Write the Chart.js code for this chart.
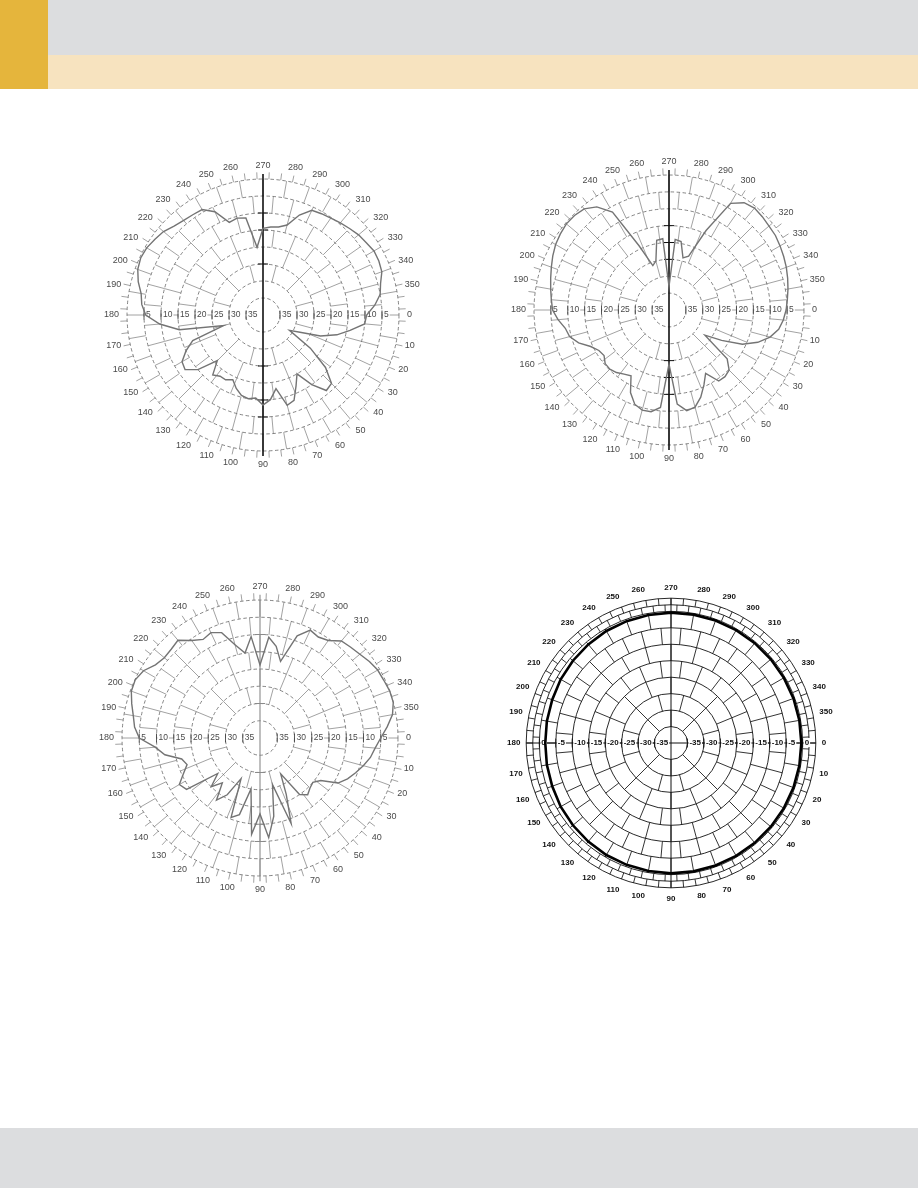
<!DOCTYPE html>
<html lang="es">
<head>
<meta charset="UTF-8">
<title>Diagramas de radiación</title>
<script src="https://cdn.jsdelivr.net/npm/chart.js@4.4.0/dist/chart.umd.min.js"></script>
<style>
    body {
        margin: 0;
        width: 918px;
        height: 1188px;
        position: relative;
        overflow: hidden;
        background: #fff;
        font-family: "Liberation Sans", Arial, sans-serif;
    }
    .banda-oro { position: absolute; left: 0; top: 0; width: 48px; height: 89px; background: #e5b53c; }
    .banda-gris { position: absolute; left: 48px; top: 0; right: 0; height: 55px; background: #dcdddf; }
    .banda-beige { position: absolute; left: 48px; top: 55px; right: 0; height: 34px; background: #f7e3bf; }
    .pie { position: absolute; left: 0; right: 0; top: 1128px; height: 60px; background: #dcdddf; }
    .polar { position: absolute; left: 0; top: 0; }
</style>
</head>
<body>
<div class="banda-oro"></div>
<div class="banda-gris"></div>
<div class="banda-beige"></div>
<div class="pie"></div>

<canvas id="patron1" class="polar" width="340" height="340"></canvas>
<canvas id="patron2" class="polar" width="340" height="340"></canvas>
<canvas id="patron3" class="polar" width="340" height="340"></canvas>
<canvas id="patron4" class="polar" width="340" height="340"></canvas>

<script>
// angulos (grados, 0 a la derecha, sentido horario)
const angulos5 = [0,5,10,15,20,25,30,35,40,45,50,55,60,65,70,75,80,85,90,95,
    100,105,110,115,120,125,130,135,140,145,150,155,160,165,170,175,180,185,190,195,
    200,205,210,215,220,225,230,235,240,245,250,255,260,265,270,275,280,285,290,295,
    300,305,310,315,320,325,330,335,340,345,350,355];
const angulos10 = [0,10,20,30,40,50,60,70,80,90,100,110,120,130,140,150,160,170,
    180,190,200,210,220,230,240,250,260,270,280,290,300,310,320,330,340,350];

const patron1 = [-9.5,-10,-14,-17.5,-22,-28,-31,-23,-16,-11.5,
    -11,-15,-20,-17,-13.3,-12.5,-18,-15,-13.5,-15.5,
    -15,-15.5,-17,-19,-18,-18,-17,-21,-15,-12,
    -12.5,-15,-18,-28,-15,-9.5,-5.5,-4.2,-3.6,-2,
    -0.8,-0.3,-0.5,-1.2,-1.8,-3,-3.7,-4,-4.2,-6.5,
    -11,-10.5,-11,-20,-14.5,-14,-13.7,-12.6,-8.7,-6,
    -5.6,-5.2,-4.6,-4,-3.3,-2.9,-2.3,-2.4,-2.8,-4.2,
    -5,-7];
const patron2 = [-5.3,-6,-7,-9,-12,-16,-22,-27,-17.5,-14.8,
    -14.2,-14.3,-18.3,-15.5,-12.5,-10.2,-9.7,-12,-24,-11,
    -9.4,-9.3,-10.3,-13,-17.5,-16.8,-15.8,-15.2,-15.3,-16.5,
    -16,-14.4,-11.5,-9.5,-8.8,-7,-5.5,-5,-4.4,-3.7,
    -2.9,-2,-1.2,-0.7,-0.3,-0.4,-0.9,-2.7,-6.5,-19,
    -26,-25,-19,-18.8,-33,-19,-19.4,-24,-23,-14,
    -3.5,-1.2,-0.6,-0.9,-1.3,-1.5,-2,-2.5,-3,-3.6,
    -4.2,-4.8];
const patron3 = [-5,-6.5,-7.5,-9,-10.5,-12,-13.9,-18.5,-20,-19.5,
    -18.5,-20,-28,-22,-13.6,-26,-17,-11,-18,-12,
    -25,-17,-15.5,-27,-21,-18,-23,-20,-24,-14,
    -13,-15.5,-17.5,-16.5,-12,-9.5,-5,-3.5,-2.7,-1.5,
    -0.3,-0.1,-1,-3,-3.8,-3.6,-3,-5.5,-7,-6.3,
    -7.5,-12,-15,-10.5,-18.8,-10.7,-13,-17,-8.5,-5.5,
    -6.2,-5.5,-3.3,-2.8,-2.2,-1.3,-0.6,-0.4,0,0,
    -1,-3];
const patron4 = [-0.4,-0.4,-0.4,-0.4,-0.4,-0.4,-0.4,-0.4,-0.4,-0.4,
    -0.5,-0.6,-0.7,-0.9,-1.1,-1.3,-1.6,-1.7,-1.8,-1.7,
    -1.6,-1.3,-1.1,-0.9,-0.7,-0.6,-0.5,-0.4,-0.4,-0.4,
    -0.4,-0.4,-0.4,-0.4,-0.4,-0.4];

// rotulos del eje horizontal
const anillosDb = [-5,-10,-15,-20,-25,-30,-35];
const anillosDb4 = [0,-5,-10,-15,-20,-25,-30,-35];

// bandas de la rejilla en ladrillo: desde, hasta, paso en grados
const bandas = [[-35,-30,45],[-30,-25,30],[-25,-20,22.5],[-20,-15,15],[-15,-10,15],
    [-10,-5,10],[-5,0,10],[0,2,5],[2,4,5]];

Chart.defaults.font.family = '"Liberation Sans", Arial, sans-serif';

function rejillaPolar(cfg) {
    return {
        id: 'rejillaPolar',
        beforeDatasetsDraw(chart) {
            const s = chart.scales.r;
            const ctx = chart.ctx;
            const cx = s.xCenter, cy = s.yCenter;
            const d = v => s.getDistanceFromCenterForValue(v);
            ctx.save();

            ctx.strokeStyle = cfg.color;
            ctx.lineWidth = cfg.grosor;
            ctx.setLineDash(cfg.guiones);
            cfg.anillosExtra.forEach(v => {
                ctx.beginPath();
                ctx.arc(cx, cy, d(v), 0, Math.PI * 2);
                ctx.stroke();
            });

            // radios cortos alternados
            ctx.setLineDash([]);
            ctx.strokeStyle = cfg.colorRadios;
            ctx.lineWidth = cfg.grosorRadios;
            bandas.forEach(([desde, hasta, paso], i) => {
                if (hasta > cfg.tope || desde < cfg.base) return;
                const r1 = d(desde), r2 = d(hasta);
                const desfase = (i % 2) * paso / 2;
                for (let a = desfase; a < 360; a += paso) {
                    const rad = a * Math.PI / 180;
                    const c = Math.cos(rad), sn = Math.sin(rad);
                    ctx.beginPath();
                    ctx.moveTo(cx + r1 * c, cy + r1 * sn);
                    ctx.lineTo(cx + r2 * c, cy + r2 * sn);
                    ctx.stroke();
                }
            });

            // ejes
            ctx.strokeStyle = cfg.colorEje;
            ctx.lineWidth = cfg.grosorEje;
            const L = d(cfg.largoEje);
            ctx.beginPath();
            ctx.moveTo(cx, cy - L);
            ctx.lineTo(cx, cy + L);
            ctx.stroke();
            if (cfg.ejeHorizontal) {
                ctx.beginPath();
                ctx.moveTo(cx - L, cy);
                ctx.lineTo(cx + L, cy);
                ctx.stroke();
            }
            ctx.lineWidth = 1;
            cfg.marcas.forEach(v => {
                [-1, 1].forEach(lado => {
                    const y = cy + lado * d(v);
                    ctx.beginPath();
                    ctx.moveTo(cx - 5, y);
                    ctx.lineTo(cx + 5, y);
                    ctx.stroke();
                });
            });

            // rotulos de los anillos sobre el eje horizontal
            ctx.font = cfg.fuente;
            ctx.textBaseline = 'middle';
            ctx.textAlign = 'left';
            cfg.anillos.forEach(v => {
                const r = d(v);
                const txt = cfg.conSigno ? String(v) : String(Math.abs(v));
                [-1, 1].forEach(lado => {
                    const x = cx + lado * r;
                    const w = ctx.measureText(txt).width;
                    ctx.fillStyle = '#fff';
                    ctx.fillRect(x + 1, cy - 5, w + 2, 9);
                    ctx.strokeStyle = cfg.colorMarca;
                    ctx.lineWidth = 0.9;
                    ctx.beginPath();
                    ctx.moveTo(x, cy - 4.5);
                    ctx.lineTo(x, cy + 4.5);
                    ctx.stroke();
                    ctx.fillStyle = cfg.colorTexto;
                    ctx.fillText(txt, x + 2, cy - 0.5);
                });
            });
            ctx.restore();
        }
    };
}

function crearPolar(id, centro, angulos, datos, est) {
    const canvas = document.getElementById(id);
    const chart = new Chart(canvas, {
        type: 'radar',
        data: {
            labels: angulos.map(String),
            datasets: [{
                data: datos,
                borderColor: est.linea,
                borderWidth: est.grosorLinea,
                pointRadius: 0,
                fill: false,
                tension: 0
            }]
        },
        options: {
            responsive: false,
            animation: false,
            layout: { padding: est.margen },
            plugins: { legend: { display: false }, tooltip: { enabled: false } },
            scales: {
                r: {
                    startAngle: 90,
                    min: -40,
                    max: 0,
                    ticks: { display: false, stepSize: 5 },
                    grid: { color: est.rejilla.color, lineWidth: est.rejilla.grosor, circular: true },
                    border: { dash: est.rejilla.guiones },
                    angleLines: { display: false },
                    pointLabels: {
                        color: est.colorTexto,
                        font: est.fuenteAngulo,
                        padding: est.separacion,
                        callback: l => (Number(l) % 10 === 0 ? l : '')
                    }
                }
            }
        },
        plugins: [rejillaPolar(est.rejilla)]
    });
    const s = chart.scales.r;
    canvas.style.left = (centro[0] - s.xCenter) + 'px';
    canvas.style.top = (centro[1] - s.yCenter) + 'px';
}

function estiloGris(margen, colorEje, grosorEje, marcas) {
    return {
        linea: '#747474',
        grosorLinea: 1.4,
        margen: margen,
        colorTexto: '#4a4a4a',
        fuenteAngulo: { size: 9 },
        separacion: 8,
        rejilla: {
            color: '#5c5c5c', grosor: 0.75, guiones: [3.5, 2.5], anillosExtra: [], tope: 2, base: -30,
            colorRadios: '#707070', grosorRadios: 0.65,
            colorEje: colorEje, grosorEje: grosorEje, largoEje: 1.5, ejeHorizontal: false,
            marcas: marcas, anillos: anillosDb, conSigno: false, colorMarca: '#444',
            fuente: '8.5px "Liberation Sans", Arial, sans-serif', colorTexto: '#4a4a4a'
        }
    };
}

crearPolar('patron1', [263, 315], angulos5, patron1, estiloGris(11, '#111', 1.6, [-10, -15, -25]));
crearPolar('patron2', [669, 310], angulos5, patron2, estiloGris(12, '#111', 1.6, [-15, -20, -25]));
crearPolar('patron3', [260, 738], angulos5, patron3, estiloGris(9, '#8a8a8a', 1.1, [-10, -15, -30]));

// el cuarto diagrama lleva rejilla continua y dos anillos exteriores
crearPolar('patron4', [671, 743], angulos10, patron4, {
    linea: '#000',
    grosorLinea: 2.6,
    margen: 6,
    colorTexto: '#111',
    fuenteAngulo: { size: 8, weight: 'bold' },
    separacion: 19,
    rejilla: {
        color: '#111', grosor: 0.9, guiones: [], anillosExtra: [2, 4], tope: 4, base: -35,
        colorRadios: '#111', grosorRadios: 0.85,
        colorEje: '#111', grosorEje: 1, largoEje: 4, ejeHorizontal: true,
        marcas: [], anillos: anillosDb4, conSigno: true, colorMarca: '#111',
        fuente: 'bold 8px "Liberation Sans", Arial, sans-serif', colorTexto: '#111'
    }
});
</script>
</body>
</html>
